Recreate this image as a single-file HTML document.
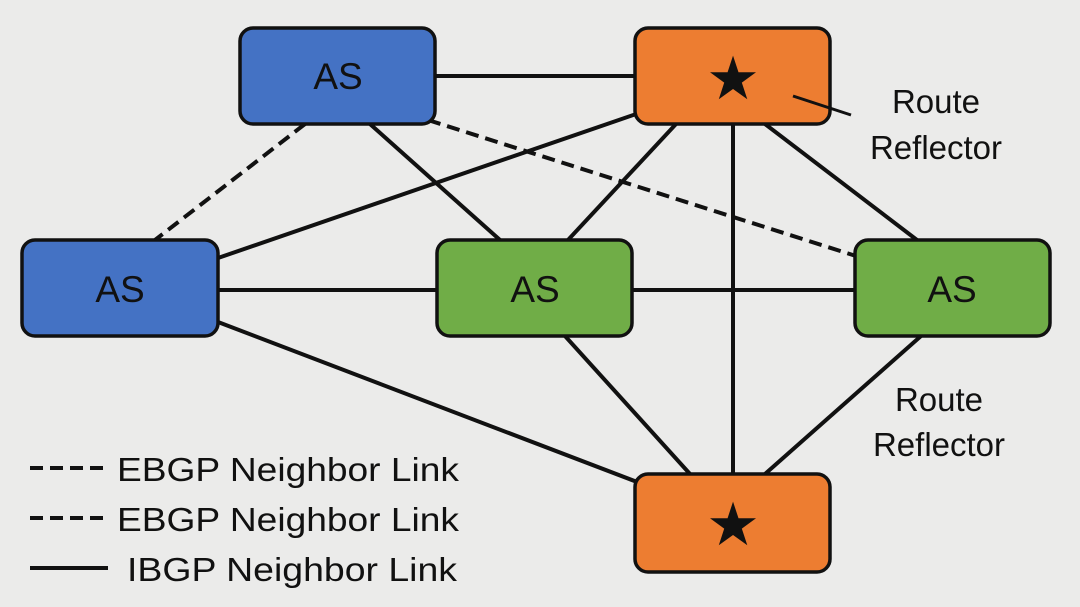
<!DOCTYPE html>
<html><head><meta charset="utf-8"><style>
html,body{margin:0;padding:0;background:#ebebea;}
svg{display:block;}
text{font-family:"Liberation Sans",Arial,sans-serif;fill:#111;}
</style></head><body>
<svg width="1080" height="607" viewBox="0 0 1080 607">
<rect width="1080" height="607" fill="#ebebea"/>
<g stroke="#111" stroke-width="4" fill="none">
<line x1="435" y1="76" x2="635" y2="76"/>
<line x1="305" y1="124" x2="155" y2="240" stroke-dasharray="13,7"/>
<line x1="370" y1="124" x2="500" y2="240"/>
<line x1="428" y1="120" x2="856" y2="256" stroke-dasharray="13,7"/>
<line x1="642" y1="112" x2="218" y2="258"/>
<line x1="676" y1="124" x2="568" y2="240"/>
<line x1="733" y1="124" x2="733" y2="474"/>
<line x1="765" y1="124" x2="917" y2="240"/>
<line x1="218" y1="290" x2="437" y2="290"/>
<line x1="632" y1="290" x2="855" y2="290"/>
<line x1="218" y1="322" x2="645" y2="485"/>
<line x1="565" y1="336" x2="690" y2="474"/>
<line x1="921" y1="336" x2="765" y2="474"/>
</g>
<g stroke="#111" stroke-width="3.5">
<rect x="240" y="28" width="195" height="96" rx="13" fill="#4472c4"/>
<rect x="635" y="28" width="195" height="96" rx="13" fill="#ed7d31"/>
<rect x="22" y="240" width="196" height="96" rx="13" fill="#4472c4"/>
<rect x="437" y="240" width="195" height="96" rx="13" fill="#70ad47"/>
<rect x="855" y="240" width="195" height="96" rx="13" fill="#70ad47"/>
<rect x="635" y="474" width="195" height="98" rx="13" fill="#ed7d31"/>
</g>
<line x1="793" y1="96" x2="851" y2="115" stroke="#111" stroke-width="3"/>
<g font-size="37" text-anchor="middle">
<text x="338" y="89">AS</text>
<text x="120" y="302">AS</text>
<text x="535" y="302">AS</text>
<text x="952" y="302">AS</text>
<text x="733" y="99" font-size="60">★</text>
<text x="733" y="545" font-size="60">★</text>
</g>
<g font-size="33" text-anchor="middle">
<text x="936" y="113">Route</text>
<text x="936" y="159">Reflector</text>
<text x="939" y="411">Route</text>
<text x="939" y="456">Reflector</text>
</g>
<g stroke="#111" stroke-width="4">
<line x1="30" y1="468" x2="105" y2="468" stroke-dasharray="13,7"/>
<line x1="30" y1="518" x2="105" y2="518" stroke-dasharray="13,7"/>
<line x1="30" y1="568" x2="108" y2="568"/>
</g>
<g font-size="33">
<text x="117" y="481" textLength="342" lengthAdjust="spacingAndGlyphs">EBGP Neighbor Link</text>
<text x="117" y="531" textLength="342" lengthAdjust="spacingAndGlyphs">EBGP Neighbor Link</text>
<text x="127" y="581" textLength="330" lengthAdjust="spacingAndGlyphs">IBGP Neighbor Link</text>
</g>
</svg>
</body></html>
